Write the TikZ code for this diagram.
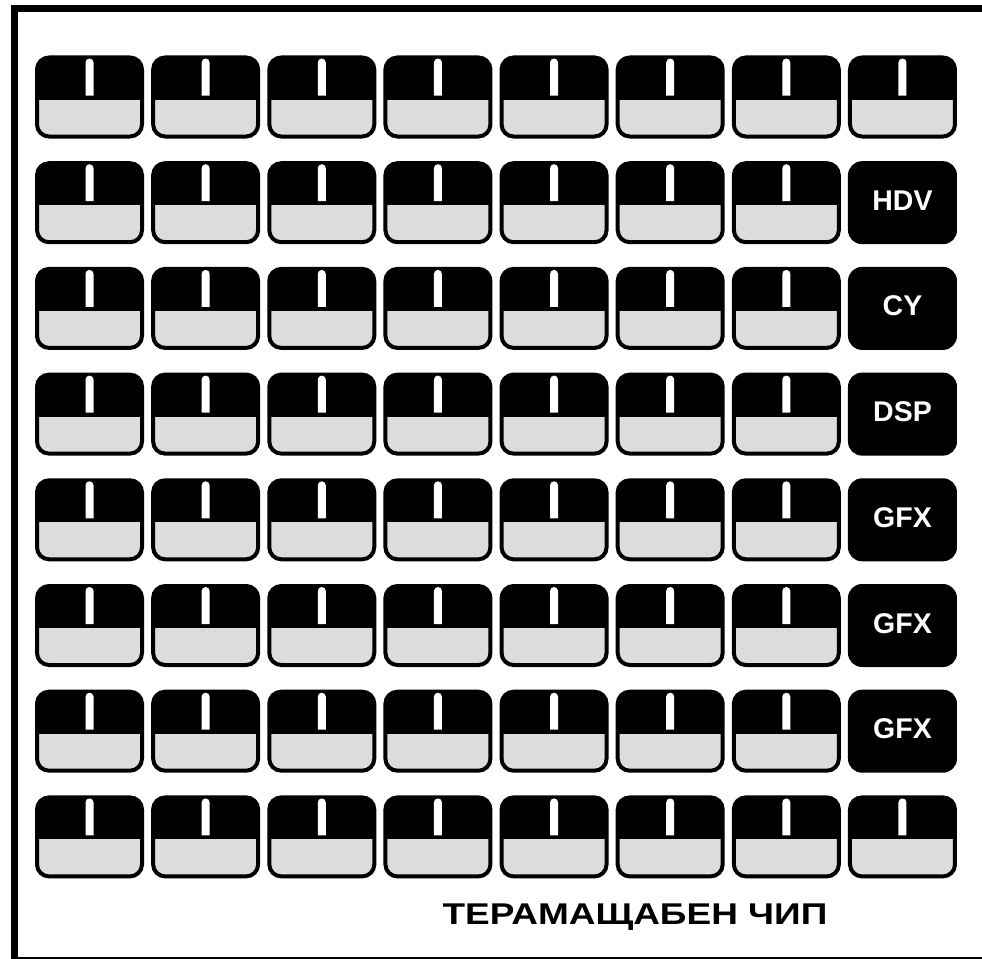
\documentclass[tikz,border=0pt]{standalone}
\usepackage{fontspec}
\setmainfont{Liberation Sans}
\usetikzlibrary{calc}
\definecolor{padgrey}{HTML}{DCDCDC}
\begin{document}
\begin{tikzpicture}[x=1pt,y=-1pt,
  tileedge/.style={draw=black,line width=4pt,rounded corners=12pt},
  label/.style={text=white,font=\fontsize{28.5}{31}\selectfont\bfseries,anchor=base,inner sep=0pt},
  caption/.style={font=\fontsize{30}{33}\selectfont\bfseries,anchor=base,inner sep=0pt}]
  \useasboundingbox (0,0) rectangle (982,958);
  \clip (0,0) rectangle (982,958);
  % chip outline
  \draw[line width=7pt] (14.5,8.5) rectangle (992,960);
  % tile grid: 8 columns x 8 rows
  \foreach \c in {0,...,7}{
    \foreach \r in {0,...,7}{
      \pgfmathsetmacro{\tx}{35+116.14*\c}
      \pgfmathsetmacro{\ty}{55.5+105.7*\r}
      \coordinate (t-\c-\r) at (\tx,\ty);
      \pgfmathtruncatemacro{\isfn}{(\c==7 && \r>0 && \r<7) ? 1 : 0}
      \ifnum\isfn=1
        \fill[black,rounded corners=14pt] (\tx,\ty) rectangle ++(109,83);
      \else
        \begin{scope}
          \clip[rounded corners=12pt] (\tx+2,\ty+2) rectangle ++(105,79);
          \fill[padgrey] (\tx,\ty) rectangle ++(109,83);
          \fill[black] (\tx,\ty) rectangle ++(109,44);
        \end{scope}
        \draw[tileedge] (\tx+2,\ty+2) rectangle ++(105,79);
        % key slot: rounded top, square bottom
        \fill[white] (\tx+50.5,\ty+40) -- (\tx+50.5,\ty+7) arc (180:360:4) -- (\tx+58.5,\ty+40) -- cycle;
      \fi
    }
  }
  % function labels in the right-hand column
  \node[label] (hdv) at ($(t-7-1)+(54.5,49)$) {HDV};
  \node[label] (cy)  at ($(t-7-2)+(54.5,49)$) {CY};
  \node[label] (dsp) at ($(t-7-3)+(54.5,49)$) {DSP};
  \node[label] (gfxa) at ($(t-7-4)+(54.5,49)$) {GFX};
  \node[label] (gfxb) at ($(t-7-5)+(54.5,49)$) {GFX};
  \node[label] (gfxc) at ($(t-7-6)+(54.5,49)$) {GFX};
  % chip name
  \node[caption] (name) at (635,924.5) {\scalebox{1.233}[1]{ТЕРАМАЩАБЕН ЧИП}};
\end{tikzpicture}
\end{document}
